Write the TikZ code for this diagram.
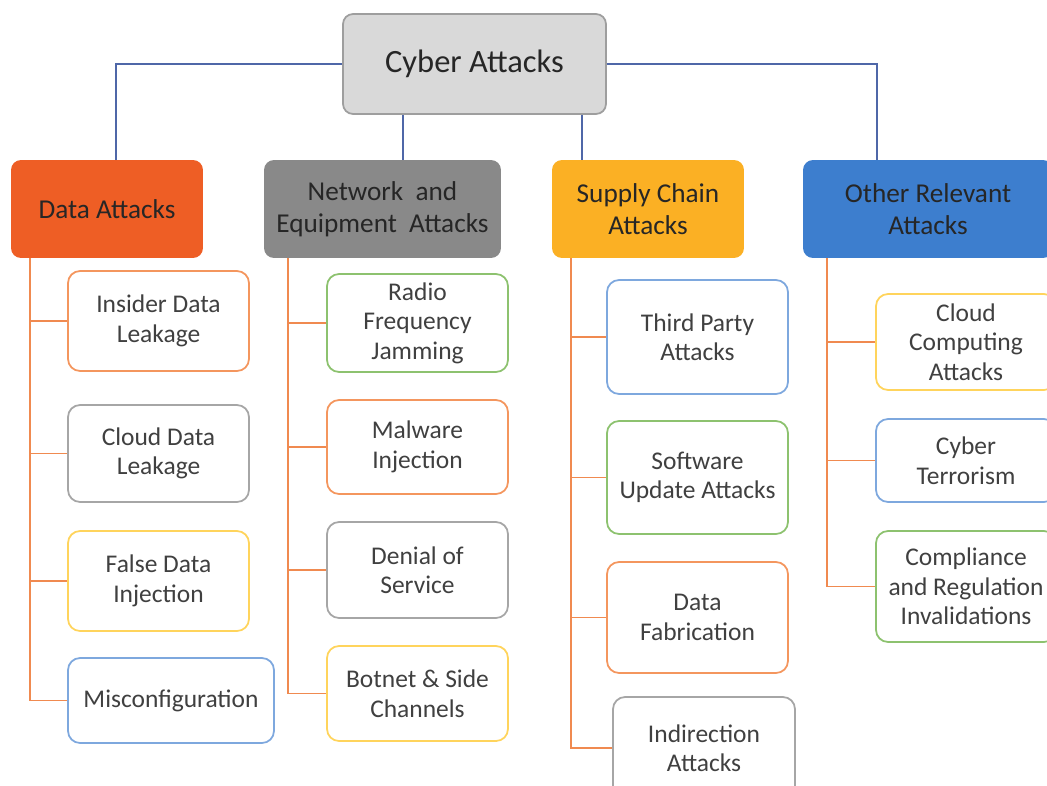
\documentclass[tikz,border=0pt]{standalone}
\usepackage{fontspec}
\setmainfont{Carlito}
\definecolor{trunkblue}{HTML}{4F67A8}
\definecolor{branchorange}{HTML}{F08A50}
\definecolor{rootgray}{HTML}{D9D9D9}
\definecolor{rootedge}{HTML}{9E9E9E}
\definecolor{dataorange}{HTML}{EE5E25}
\definecolor{netgray}{HTML}{898989}
\definecolor{supplygold}{HTML}{FBB024}
\definecolor{otherblue}{HTML}{3D7ECE}
\definecolor{lorange}{HTML}{F4965E}
\definecolor{lgray}{HTML}{A6A6A6}
\definecolor{lyellow}{HTML}{FFD45C}
\definecolor{lblue}{HTML}{7EA8DE}
\definecolor{lgreen}{HTML}{8DC26F}
\begin{document}
\begin{tikzpicture}[x=0.02cm,y=-0.02cm,
        header/.style={rounded corners=0.2cm, minimum height=1.96cm, align=center,
            inner sep=2pt, font=\fontsize{15.5}{18.5}\selectfont, text=black!85},
        leaf/.style={draw=#1, line width=1pt, fill=white, rounded corners=0.24cm,
            minimum width=3.62cm, align=center, inner sep=2pt,
            font=\fontsize{14.5}{16.8}\selectfont, text=black!75},
        trunk/.style={draw=trunkblue, line width=1.1pt},
        branch/.style={draw=branchorange, line width=1.1pt}]
        \useasboundingbox (0,0) rectangle (1047,785);

        \node[header, fill=rootgray, draw=rootedge, line width=1pt, minimum width=5.26cm,
            minimum height=2cm, font=\fontsize{18.5}{22}\selectfont] (root) at (474.5,64) {Cyber Attacks};

        \node[header, fill=dataorange, minimum width=3.84cm] (dat) at (107,209) {Data Attacks};
        \node[header, fill=netgray, minimum width=4.74cm] (net) at (382.5,209) {Network \ and\\Equipment \ Attacks};
        \node[header, fill=supplygold, minimum width=3.84cm] (sup) at (648,209) {Supply Chain\\Attacks};
        \node[header, fill=otherblue, minimum width=5cm] (oth) at (928,209) {Other Relevant\\Attacks};

        % data attacks
        \node[leaf=lorange, minimum height=2cm] (idl) at (158.5,321) {Insider Data\\Leakage};
        \node[leaf=lgray, minimum height=1.94cm] (cdl) at (158.5,453.5) {Cloud Data\\Leakage};
        \node[leaf=lyellow, minimum height=2cm] (fdi) at (158.5,581) {False Data\\Injection};
        \node[leaf=lblue, minimum width=4.12cm, minimum height=1.7cm] (mcf) at (171,700.5) {Misconfiguration};

        % network and equipment attacks
        \node[leaf=lgreen, minimum height=1.96cm] (rfj) at (417.5,323) {Radio\\Frequency\\Jamming};
        \node[leaf=lorange, minimum height=1.88cm] (mwi) at (417.5,447) {Malware\\Injection};
        \node[leaf=lgray, minimum height=1.92cm] (dos) at (417.5,570) {Denial of\\Service};
        \node[leaf=lyellow, minimum height=1.9cm] (bsc) at (417.5,693.5) {Botnet \& Side\\Channels};

        % supply chain attacks
        \node[leaf=lblue, minimum height=2.28cm] (tpa) at (697.5,337) {Third Party\\Attacks};
        \node[leaf=lgreen, minimum height=2.26cm] (sua) at (697.5,477.5) {Software\\Update Attacks};
        \node[leaf=lorange, minimum height=2.22cm] (dfb) at (697.5,617.5) {Data\\Fabrication};
        \node[leaf=lgray, minimum width=3.64cm, minimum height=2.04cm] (ina) at (704,748) {Indirection\\Attacks};

        % other relevant attacks
        \node[leaf=lyellow, minimum width=3.6cm, minimum height=1.92cm] (cca) at (966,342) {Cloud\\Computing\\Attacks};
        \node[leaf=lblue, minimum width=3.6cm, minimum height=1.66cm] (cyt) at (966,460.5) {Cyber\\Terrorism};
        \node[leaf=lgreen, minimum width=3.6cm, minimum height=2.22cm] (cri) at (966,586.5) {Compliance\\and Regulation\\Invalidations};

        \draw[trunk] (root.west) -| ([xshift=0.18cm]dat.north);
        \draw[trunk] (root.east) -| ([xshift=-1.02cm]oth.north);
        \draw[trunk] ([xshift=-1.43cm]root.south) -- ([xshift=-1.43cm]root.south |- net.north);
        \draw[trunk] ([xshift=2.15cm]root.south) -- ([xshift=2.15cm]root.south |- sup.north);

        \draw[branch] ([xshift=0.38cm]dat.south west) |- (idl);
        \draw[branch] ([xshift=0.38cm]dat.south west) |- (cdl);
        \draw[branch] ([xshift=0.38cm]dat.south west) |- (fdi);
        \draw[branch] ([xshift=0.38cm]dat.south west) |- (mcf);

        \draw[branch] ([xshift=0.48cm]net.south west) |- (rfj);
        \draw[branch] ([xshift=0.48cm]net.south west) |- (mwi);
        \draw[branch] ([xshift=0.48cm]net.south west) |- (dos);
        \draw[branch] ([xshift=0.48cm]net.south west) |- (bsc);

        \draw[branch] ([xshift=0.38cm]sup.south west) |- (tpa);
        \draw[branch] ([xshift=0.38cm]sup.south west) |- (sua);
        \draw[branch] ([xshift=0.38cm]sup.south west) |- (dfb);
        \draw[branch] ([xshift=0.38cm]sup.south west) |- (ina);

        \draw[branch] ([xshift=0.48cm]oth.south west) |- (cca);
        \draw[branch] ([xshift=0.48cm]oth.south west) |- (cyt);
        \draw[branch] ([xshift=0.48cm]oth.south west) |- (cri);
\end{tikzpicture}
\end{document}
